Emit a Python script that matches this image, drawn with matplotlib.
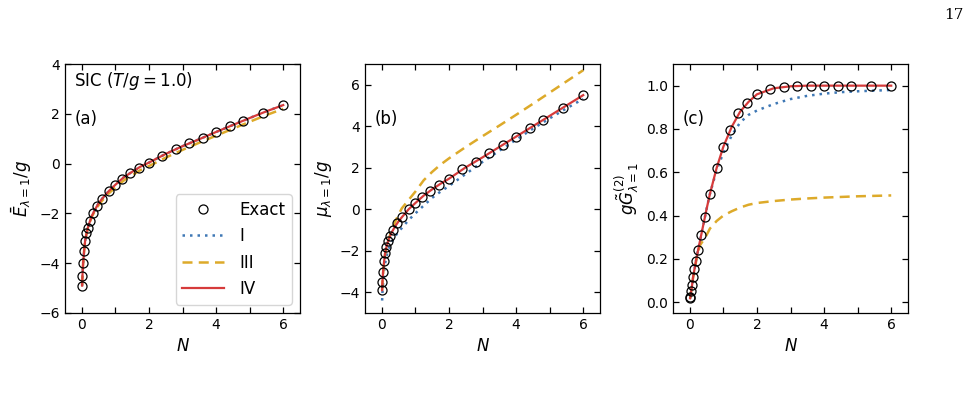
import matplotlib
matplotlib.use("Agg")
import matplotlib.pyplot as plt
from matplotlib.ticker import FixedLocator

# ---------------- data ----------------
N_exact = [0.01, 0.02, 0.04, 0.07, 0.1, 0.14, 0.18, 0.24, 0.34, 0.45, 0.6, 0.8, 1.0,
           1.2, 1.45, 1.7, 2.0, 2.4, 2.8, 3.2, 3.6, 4.0, 4.4, 4.8, 5.4, 6.0]
E_exact = [-4.9, -4.5, -4.0, -3.5, -3.1, -2.8, -2.57, -2.3, -2.0, -1.7, -1.42, -1.11, -0.85,
           -0.6, -0.38, -0.16, 0.04, 0.32, 0.59, 0.82, 1.03, 1.28, 1.5, 1.72, 2.05, 2.35]
mu_exact = [-3.9, -3.5, -3.0, -2.5, -2.1, -1.8, -1.55, -1.3, -1.0, -0.68, -0.38, 0.0, 0.3,
            0.6, 0.9, 1.18, 1.47, 1.92, 2.3, 2.7, 3.1, 3.5, 3.9, 4.3, 4.9, 5.5]
G_exact = [0.018, 0.026, 0.05, 0.08, 0.118, 0.154, 0.19, 0.242, 0.308, 0.392, 0.5, 0.62, 0.718,
           0.795, 0.872, 0.92, 0.96, 0.985, 0.995, 1.0, 1.0, 1.0, 1.0, 1.0, 1.0, 1.0]

N_line = [0.01, 0.02, 0.04, 0.07, 0.1, 0.15, 0.2, 0.3, 0.4, 0.5, 0.6, 0.8, 1.0,
          1.25, 1.5, 1.75, 2.0, 2.5, 3.0, 3.5, 4.0, 4.5, 5.0, 5.5, 6.0]

E_I   = [-4.9, -4.5, -4.0, -3.5, -3.1, -2.75, -2.48, -2.1, -1.83, -1.6, -1.42, -1.11, -0.85,
         -0.55, -0.33, -0.12, 0.04, 0.39, 0.7, 0.98, 1.27, 1.55, 1.83, 2.1, 2.35]
E_III = [-4.9, -4.5, -4.0, -3.5, -3.1, -2.76, -2.5, -2.13, -1.88, -1.67, -1.5, -1.2, -0.96,
         -0.68, -0.46, -0.26, -0.1, 0.24, 0.55, 0.84, 1.12, 1.4, 1.68, 1.95, 2.2]
E_IV  = [-4.9, -4.5, -4.0, -3.5, -3.1, -2.75, -2.48, -2.1, -1.83, -1.6, -1.42, -1.11, -0.85,
         -0.55, -0.33, -0.12, 0.04, 0.39, 0.7, 0.98, 1.27, 1.55, 1.83, 2.1, 2.35]

mu_I   = [-4.4, -4.0, -3.55, -3.0, -2.6, -2.2, -1.95, -1.55, -1.3, -1.07, -0.9, -0.52, -0.2,
          0.18, 0.55, 0.85, 1.12, 1.7, 2.28, 2.82, 3.35, 3.88, 4.38, 4.86, 5.32]
mu_III = [-3.9, -3.55, -3.05, -2.55, -2.15, -1.75, -1.45, -1.0, -0.6, -0.25, 0.05, 0.45, 0.85,
          1.4, 1.8, 2.15, 2.45, 3.0, 3.52, 4.03, 4.55, 5.08, 5.62, 6.16, 6.7]
mu_IV  = [-3.9, -3.5, -3.0, -2.5, -2.1, -1.75, -1.48, -1.1, -0.82, -0.58, -0.38, 0.0, 0.3,
          0.66, 0.96, 1.23, 1.47, 2.02, 2.5, 3.0, 3.5, 4.0, 4.5, 5.0, 5.5]

G_I   = [0.018, 0.026, 0.05, 0.08, 0.118, 0.16, 0.205, 0.28, 0.355, 0.43, 0.5, 0.61, 0.69,
         0.77, 0.83, 0.865, 0.885, 0.915, 0.938, 0.953, 0.963, 0.97, 0.974, 0.977, 0.98]
G_III = [0.018, 0.026, 0.05, 0.08, 0.115, 0.155, 0.2, 0.262, 0.285, 0.31, 0.34, 0.375, 0.4,
         0.42, 0.437, 0.45, 0.458, 0.467, 0.474, 0.479, 0.483, 0.486, 0.489, 0.491, 0.493]
G_IV  = [0.018, 0.026, 0.05, 0.08, 0.118, 0.16, 0.205, 0.28, 0.355, 0.43, 0.5, 0.62, 0.718,
         0.81, 0.88, 0.925, 0.96, 0.988, 0.997, 1.0, 1.0, 1.0, 1.0, 1.0, 1.0]

labels = ["Exact", "I", "III", "IV"]
panel_tags = ["(a)", "(b)", "(c)"]
ylabels = [r"$\bar{E}_{\lambda=1}/g$", r"$\mu_{\lambda=1}/g$", r"$g\tilde{G}^{(2)}_{\lambda=1}$"]

# ---------------- style ----------------
C_BLUE = "#3f78b5"
C_GOLD = "#ddaa2a"
C_RED = "#d63b3b"

fig = plt.figure(figsize=(9.71, 3.93), dpi=100)
H = 393.0
W = 971.0
lefts = [65, 365, 673]
axes = []
for l in lefts:
    ax = fig.add_axes([l / W, (H - 313) / H, 235 / W, 249 / H])
    axes.append(ax)

datasets = [
    (E_exact, E_I, E_III, E_IV),
    (mu_exact, mu_I, mu_III, mu_IV),
    (G_exact, G_I, G_III, G_IV),
]
ylims = [(-6, 4), (-5, 7), (-0.05, 1.1)]
yticks = [[-6, -4, -2, 0, 2, 4], [-4, -2, 0, 2, 4, 6], [0.0, 0.2, 0.4, 0.6, 0.8, 1.0]]

for i, ax in enumerate(axes):
    ex, l1, l3, l4 = datasets[i]
    ax.plot(N_exact, ex, linestyle="none", marker="o", markersize=6.5,
            markerfacecolor="none", markeredgecolor="black", markeredgewidth=0.9,
            label=labels[0], zorder=4)
    ax.plot(N_line, l1, linestyle=(0, (1, 2)), color=C_BLUE, lw=1.8, label=labels[1], zorder=2)
    ax.plot(N_line, l3, linestyle=(0, (4, 2.5)), color=C_GOLD, lw=1.8, label=labels[2], zorder=2)
    ax.plot(N_line, l4, linestyle="-", color=C_RED, lw=1.6, label=labels[3], zorder=3)
    ax.set_xlim(-0.5, 6.5)
    ax.set_ylim(*ylims[i])
    ax.xaxis.set_major_locator(FixedLocator([0, 2, 4, 6]))
    ax.xaxis.set_minor_locator(FixedLocator([1, 3, 5]))
    ax.yaxis.set_major_locator(FixedLocator(yticks[i]))
    if i == 2:
        ax.set_yticklabels(["0.0", "0.2", "0.4", "0.6", "0.8", "1.0"])
    ax.tick_params(which="both", direction="in", top=True, right=True,
                   length=4, width=0.9, labelsize=10)
    ax.set_xlabel(r"$N$", fontsize=12)
    ax.set_ylabel(ylabels[i], fontsize=12)
    for s in ax.spines.values():
        s.set_linewidth(0.9)
    ax.text(0.04, 0.78, panel_tags[i], transform=ax.transAxes,
            fontsize=12, ha="left", va="center")

axes[0].text(0.04, 0.93, r"SIC ($T/g = 1.0$)", transform=axes[0].transAxes,
             fontsize=12, ha="left", va="center")
axes[0].legend(loc="lower right", fontsize=12, frameon=True, borderpad=0.4,
               handlelength=2.5, labelspacing=0.5, handletextpad=0.9)

fig.text(954 / W, 1 - 15 / H, "17", family="DejaVu Serif", fontsize=11,
         ha="center", va="center")

fig.savefig("out.png", dpi=100)
